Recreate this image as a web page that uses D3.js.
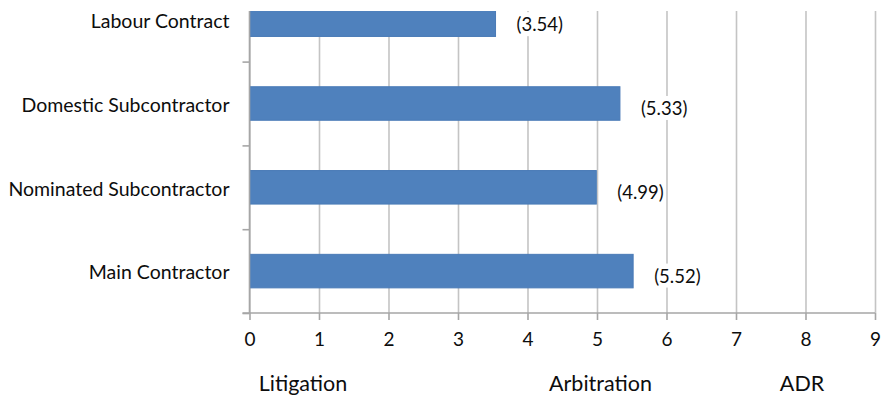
<!DOCTYPE html>
<html>
<head>
<meta charset="utf-8">
<script src="https://cdn.jsdelivr.net/npm/d3@7"></script>
<style>
  body { margin: 0; background: #fff; }
  svg { display: block; font-family: Lato, "Open Sans", sans-serif; }
</style>
</head>
<body>
<svg id="chart" width="884" height="397"></svg>
<script>
// data (top to bottom as drawn)
const categories = ['Labour Contract', 'Domestic Subcontractor', 'Nominated Subcontractor', 'Main Contractor']
const values = [3.54, 5.33, 4.99, 5.52]
const xTicks = [0, 1, 2, 3, 4, 5, 6, 7, 8, 9]
const groupLabels = ['Litigation', 'Arbitration', 'ADR']
const groupCentres = [0.77, 5.05, 7.95]

const plotLeft = 249.5, plotRight = 875
const plotTop = 11, plotBottom = 313
// the first band is cut off at the top of the picture
const bandTop = -22.2
const textColour = '#0d0d0d'

const svg = d3.select('#chart')

// set the ranges
const x = d3.scaleLinear().domain([0, 9]).range([plotLeft, plotRight])
const y = d3.scaleBand().domain(categories).range([bandTop, plotBottom])
  .paddingInner(0.6).paddingOuter(0.3)
const yEdge = d3.scaleLinear().domain([0, categories.length]).range([bandTop, plotBottom])

svg.append('defs').append('clipPath').attr('id', 'plot-clip')
  .append('rect')
  .attr('x', plotLeft - 10).attr('y', plotTop)
  .attr('width', plotRight - plotLeft + 20).attr('height', plotBottom - plotTop + 10)

// vertical gridlines
svg.append('g')
  .attr('transform', 'translate(0,' + plotBottom + ')')
  .call(d3.axisBottom(x).tickValues(xTicks).tickSize(-(plotBottom - plotTop)).tickFormat(''))
  .call(g => g.select('.domain').remove())
  .call(g => g.selectAll('line').attr('stroke', '#c4c4c4').attr('stroke-width', 1.6))

// bars
const plot = svg.append('g').attr('clip-path', 'url(#plot-clip)')
plot.selectAll('rect.bar')
  .data(categories)
  .join('rect')
  .attr('class', 'bar')
  .attr('x', x(0))
  .attr('y', d => y(d))
  .attr('width', (d, i) => x(values[i]) - x(0))
  .attr('height', y.bandwidth())
  .attr('fill', '#4f81bd')
  .attr('stroke', '#4a7bb7')
  .attr('stroke-width', 1)

// x axis
svg.append('g')
  .attr('transform', 'translate(0,' + plotBottom + ')')
  .call(d3.axisBottom(x).tickValues(xTicks).tickSize(7).tickPadding(13).tickFormat(d3.format('d')))
  .call(g => g.select('.domain').attr('stroke', '#a6a6a6').attr('stroke-width', 1.6)
    .attr('d', 'M' + (plotLeft - 7) + ',0H' + plotRight))
  .call(g => g.selectAll('line').attr('stroke', '#a6a6a6').attr('stroke-width', 1.6))
  .call(g => g.selectAll('text').attr('fill', textColour).style('font-size', '19px')
    .style('font-family', 'Lato, sans-serif'))

// y axis line with ticks between categories
svg.append('g')
  .attr('transform', 'translate(' + plotLeft + ',0)')
  .call(d3.axisLeft(yEdge).tickValues(d3.range(1, categories.length + 1)).tickSize(7).tickFormat(''))
  .call(g => g.select('.domain').attr('stroke', '#a6a6a6').attr('stroke-width', 1.6)
    .attr('d', 'M0,' + plotTop + 'V' + plotBottom))
  .call(g => g.selectAll('line').attr('stroke', '#a6a6a6').attr('stroke-width', 1.6))

// category labels
svg.append('g')
  .attr('transform', 'translate(' + (plotLeft - 20) + ',2)')
  .call(d3.axisLeft(y).tickSize(0).tickPadding(0))
  .call(g => g.select('.domain').remove())
  .call(g => g.selectAll('text').attr('fill', textColour).style('font-size', '19.5px')
    .style('font-family', 'Lato, sans-serif'))

// value labels with white box
const labels = svg.append('g').selectAll('g.vlabel')
  .data(categories)
  .join('g')
  .attr('class', 'vlabel')
  .attr('transform', (d, i) => 'translate(' + (x(values[i]) + 21) + ',' + (y(d) + y.bandwidth() / 2 + 5) + ')')

labels.append('text')
  .attr('dy', '0.35em')
  .attr('fill', textColour)
  .style('font-size', '18.5px')
  .text((d, i) => '(' + d3.format('.2f')(values[i]) + ')')

labels.each(function() {
  const g = d3.select(this)
  const b = g.select('text').node().getBBox()
  g.insert('rect', 'text')
    .attr('x', b.x - 2).attr('y', b.y - 1)
    .attr('width', b.width + 4).attr('height', b.height + 2)
    .attr('fill', '#fff')
})

// group labels under the axis
svg.append('g').selectAll('text')
  .data(groupLabels)
  .join('text')
  .attr('x', (d, i) => x(groupCentres[i]))
  .attr('y', 391)
  .attr('text-anchor', 'middle')
  .attr('fill', textColour)
  .style('font-size', '21.5px')
  .text(d => d)
</script>
</body>
</html>
